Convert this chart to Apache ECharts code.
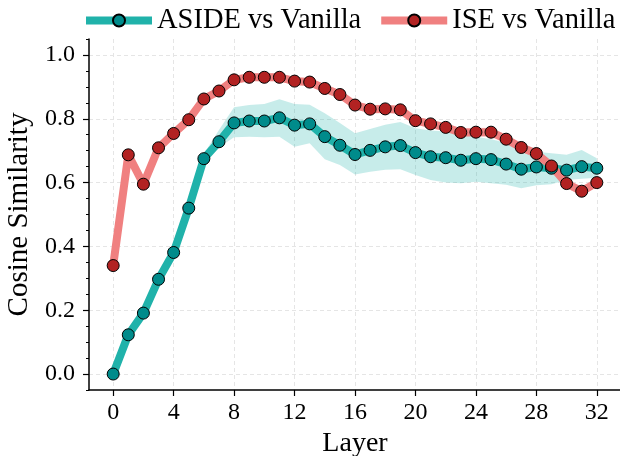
<!DOCTYPE html>
<html>
<head>
<meta charset="utf-8">
<script src="https://cdn.jsdelivr.net/npm/echarts@6/dist/echarts.min.js"></script>
<style>
html,body{margin:0;padding:0;background:#fff;}
#chart{width:620px;height:456px;}
</style>
</head>
<body>
<div id="chart"></div>
<script>
// ---- data ----
const layers = [0,1,2,3,4,5,6,7,8,9,10,11,12,13,14,15,16,17,18,19,20,21,22,23,24,25,26,27,28,29,30,31,32];
const aside = [0.000,0.123,0.191,0.297,0.381,0.520,0.675,0.728,0.787,0.793,0.793,0.803,0.780,0.784,0.744,0.717,0.688,0.701,0.712,0.716,0.694,0.681,0.678,0.670,0.675,0.672,0.658,0.642,0.649,0.645,0.639,0.650,0.645];
const asideUpper = [0.005,0.128,0.196,0.302,0.386,0.527,0.690,0.765,0.836,0.843,0.846,0.861,0.846,0.844,0.817,0.787,0.755,0.768,0.781,0.790,0.770,0.763,0.760,0.749,0.744,0.736,0.725,0.702,0.697,0.692,0.687,0.702,0.676];
const asideLower = [-0.005,0.118,0.186,0.292,0.376,0.513,0.660,0.711,0.742,0.744,0.742,0.744,0.712,0.723,0.673,0.655,0.625,0.634,0.640,0.642,0.624,0.608,0.600,0.598,0.603,0.598,0.593,0.582,0.592,0.595,0.608,0.612,0.615];
const ise = [0.340,0.687,0.595,0.709,0.754,0.797,0.862,0.887,0.922,0.930,0.930,0.930,0.918,0.915,0.895,0.876,0.843,0.830,0.831,0.828,0.794,0.784,0.773,0.757,0.758,0.758,0.736,0.710,0.691,0.652,0.597,0.573,0.600];
const iseUpper = [0.350,0.697,0.605,0.719,0.764,0.807,0.872,0.899,0.934,0.942,0.942,0.942,0.931,0.928,0.908,0.889,0.856,0.843,0.844,0.841,0.807,0.797,0.786,0.771,0.772,0.772,0.750,0.724,0.705,0.666,0.611,0.588,0.614];
const iseLower = [0.330,0.677,0.585,0.699,0.744,0.787,0.852,0.875,0.910,0.918,0.918,0.918,0.905,0.902,0.882,0.863,0.830,0.817,0.818,0.815,0.781,0.771,0.760,0.743,0.744,0.744,0.722,0.696,0.677,0.638,0.583,0.558,0.586];
const xTicks = [0,4,8,12,16,20,24,28,32];
const yTicks = [0,0.2,0.4,0.6,0.8,1.0];
const seriesNames = ['ASIDE vs Vanilla','ISE vs Vanilla'];

// ---- chart ----
const FONT = 'Liberation Serif';
const chart = echarts.init(document.getElementById('chart'), null, {renderer:'canvas'});

function bandSeries(upper, lower, color, opacity){
  return {
    type:'custom', coordinateSystem:'cartesian2d', silent:true,
    data:[[layers[0], lower[0]]],
    renderItem:function(params, api){
      const pts = [];
      for (let i=0;i<layers.length;i++) pts.push(api.coord([layers[i], upper[i]]));
      for (let i=layers.length-1;i>=0;i--) pts.push(api.coord([layers[i], lower[i]]));
      return {type:'polygon', shape:{points:pts}, style:{fill:color, opacity:opacity}};
    }
  };
}

function lineSeries(name, values, lineColor, markColor){
  return {
    name:name, type:'line',
    data: layers.map((l,i)=>[l, values[i]]),
    symbol:'circle', symbolSize:12,
    lineStyle:{color:lineColor, width:8},
    itemStyle:{color:markColor, borderColor:'#000', borderWidth:1},
    emphasis:{disabled:true}
  };
}

const option = {
  animation:false,
  backgroundColor:'#fff',
  textStyle:{fontFamily:FONT},
  grid:{left:89, top:39, width:532, height:351, containLabel:false, outerBoundsMode:'none'},
  legend:{
    data:seriesNames, left:77, top:1, width:620,
    itemWidth:66, itemHeight:15, itemGap:16,
    lineStyle:{width:8},
    textStyle:{fontFamily:FONT, fontSize:28.5, color:'#000'}
  },
  xAxis:{
    type:'value', min:-1.6, max:33.6,
    name:'Layer', nameLocation:'middle', nameGap:34,
    nameTextStyle:{fontFamily:FONT, fontSize:28, color:'#000'},
    axisLine:{show:true, onZero:false, lineStyle:{color:'#000', width:1.5}},
    axisTick:{show:true, length:6, lineStyle:{color:'#000', width:1.2}, customValues:xTicks},
    axisLabel:{customValues:xTicks, fontFamily:FONT, fontSize:24, color:'#000', margin:11},
    splitLine:{show:true, lineStyle:{color:'#e5e5e5', type:[4,3], width:1}}
  },
  yAxis:[{
    type:'value', min:-0.05, max:1.05, position:'left',
    name:'Cosine Similarity', nameLocation:'middle', nameGap:55,
    nameTextStyle:{fontFamily:FONT, fontSize:29, color:'#000'},
    axisLine:{show:true, onZero:false, lineStyle:{color:'#000', width:1.5}},
    axisTick:{show:true, length:6, lineStyle:{color:'#000', width:1.2}, customValues:yTicks},
    axisLabel:{customValues:yTicks, fontFamily:FONT, fontSize:24, color:'#000', margin:14,
      formatter:v=>v.toFixed(1)},
    splitLine:{show:true, lineStyle:{color:'#e5e5e5', type:[4,3], width:1}}
  },{
    type:'value', min:-0.05, max:1.05, interval:0.05, position:'left',
    axisLine:{show:false, onZero:false},
    axisTick:{show:true, length:3, lineStyle:{color:'#000', width:1}},
    axisLabel:{show:false},
    splitLine:{show:false}
  }],
  series:[
    bandSeries(asideUpper, asideLower, '#20B2AA', 0.25),
    lineSeries(seriesNames[0], aside, '#20B2AA', '#008B8B'),
    bandSeries(iseUpper, iseLower, '#F08080', 0.25),
    lineSeries(seriesNames[1], ise, '#F08080', '#B22222')
  ]
};
chart.setOption(option);
</script>
</body>
</html>
